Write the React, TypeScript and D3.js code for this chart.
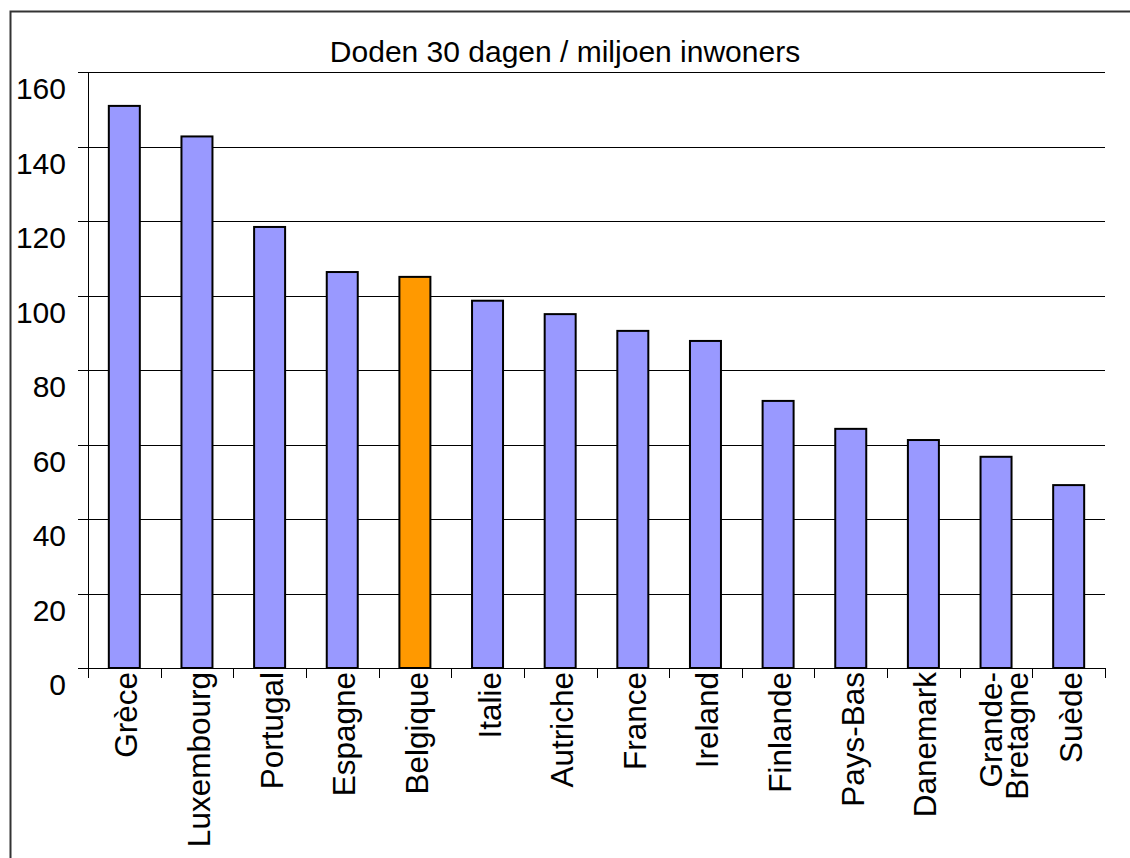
import React, { useEffect, useRef } from 'react';
import * as d3 from 'd3';

// landen en waarden (doden 30 dagen per miljoen inwoners)
const countries = [
  'Grèce', 'Luxembourg', 'Portugal', 'Espagne', 'Belgique', 'Italie', 'Autriche',
  'France', 'Ireland', 'Finlande', 'Pays-Bas', 'Danemark', 'Grande-Bretagne', 'Suède',
];
const deaths = [150.9, 142.7, 118.4, 106.3, 105.0, 98.6, 95.0, 90.5, 87.8, 71.7, 64.2, 61.2, 56.7, 49.1];
const yTicks = [0, 20, 40, 60, 80, 100, 120, 140, 160];
const highlight = 'Belgique';
const title = 'Doden 30 dagen / miljoen inwoners';

const W = 1130;
const H = 858;
const FONT = '"Liberation Sans", Arial, sans-serif';

const App = () => {
  const ref = useRef<SVGSVGElement>(null);

  useEffect(() => {
    if (!ref.current) return;
    const svg = d3.select(ref.current);
    svg.selectAll('*').remove();

    const left = 88, right = 1105, top = 72, bottom = 668;

    const x = d3.scaleBand().domain(countries).range([left, right]).paddingInner(0).paddingOuter(0);
    const y = d3.scaleLinear().domain([0, 160]).range([bottom, top]);
    const barW = 31;

    // buitenrand
    svg.append('rect')
      .attr('x', 10.5).attr('y', 11.5)
      .attr('width', W + 50).attr('height', H + 50)
      .attr('fill', 'white').attr('stroke', '#333').attr('stroke-width', 2);

    // titel
    svg.append('text')
      .attr('x', 565).attr('y', 61.5)
      .attr('text-anchor', 'middle')
      .attr('font-family', FONT).attr('font-size', 30)
      .text(title);

    // rasterlijnen
    svg.selectAll('.grid')
      .data(yTicks)
      .enter()
      .append('line')
      .attr('x1', left - 10).attr('x2', right)
      .attr('y1', d => Math.round(y(d)) + 0.5).attr('y2', d => Math.round(y(d)) + 0.5)
      .attr('stroke', 'black').attr('stroke-width', 1);

    // y-as labels
    svg.selectAll('.ylab')
      .data(yTicks)
      .enter()
      .append('text')
      .attr('x', 66)
      .attr('y', d => y(d) + 27)
      .attr('text-anchor', 'end')
      .attr('font-family', FONT).attr('font-size', 30)
      .text(d => d);

    // y-as
    svg.append('line')
      .attr('x1', left + 0.5).attr('x2', left + 0.5)
      .attr('y1', top).attr('y2', bottom + 10)
      .attr('stroke', 'black');

    // x-as streepjes
    const edges = countries.map(c => x(c)!).concat([right]);
    svg.selectAll('.xtick')
      .data(edges)
      .enter()
      .append('line')
      .attr('x1', d => Math.round(d) + 0.5).attr('x2', d => Math.round(d) + 0.5)
      .attr('y1', bottom).attr('y2', bottom + 10)
      .attr('stroke', 'black');

    // staven
    svg.selectAll('.bar')
      .data(countries)
      .enter()
      .append('rect')
      .attr('x', c => x(c)! + x.bandwidth() / 2 - barW / 2)
      .attr('y', (c, i) => y(deaths[i]))
      .attr('width', barW)
      .attr('height', (c, i) => bottom - y(deaths[i]))
      .attr('fill', c => (c === highlight ? '#ff9900' : '#9999ff'))
      .attr('stroke', 'black')
      .attr('stroke-width', 2);

    // x-as labels (gedraaid)
    countries.forEach(c => {
      const cx = x(c)! + x.bandwidth() / 2;
      const lines = c === 'Grande-Bretagne' ? ['Grande-', 'Bretagne'] : [c];
      lines.forEach((ln, i) => {
        const off = lines.length > 1 ? 6 + i * 26 : 13;
        svg.append('text')
          .attr('transform', `translate(${cx + off},672) rotate(-90)`)
          .attr('text-anchor', 'end')
          .attr('font-family', FONT).attr('font-size', 31.5)
          .text(ln);
      });
    });
  }, []);

  return (
    <svg ref={ref} width={W} height={H} style={{ position: 'absolute', left: 0, top: 0, background: 'white' }} />
  );
};

export default App;
